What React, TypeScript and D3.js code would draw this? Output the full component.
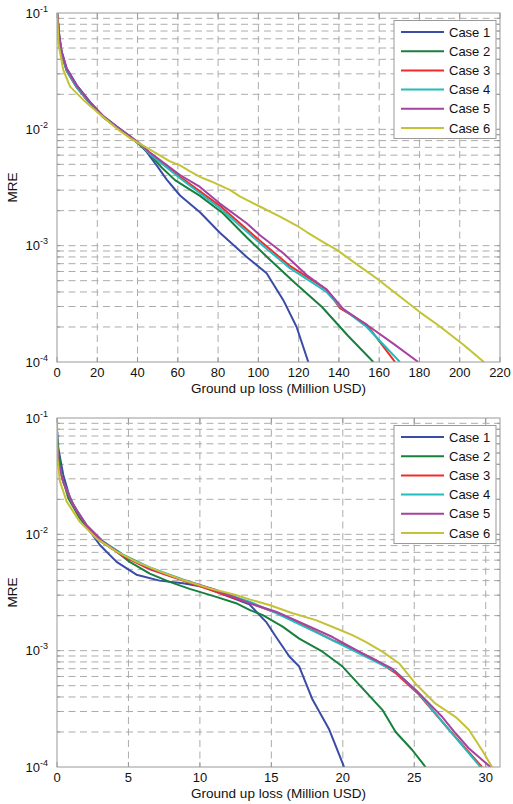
import React from 'react';
import * as d3 from 'd3';

const caseNames = ['Case 1', 'Case 2', 'Case 3', 'Case 4', 'Case 5', 'Case 6'];
const caseColors = ['#3a4ca6', '#17803d', '#f22a2a', '#22bcbe', '#a6429f', '#c4c336'];

const topXTicks = [0, 20, 40, 60, 80, 100, 120, 140, 160, 180, 200, 220];
const bottomXTicks = [0, 5, 10, 15, 20, 25, 30];
const yTickExps = [-1, -2, -3, -4];
const xLabel = 'Ground up loss (Million USD)';
const yLabel = 'MRE';

// ---------- Top panel data ----------
const topX1 = [0.1, 1.1, 2.3, 4.8, 9.8, 16.4, 23, 29.6, 36.3, 41, 44.5, 49.5, 54.5, 61.1, 71, 80.9, 94.2, 104.1, 112.4, 119, 124.8];
const topY1 = [0.1, 0.065, 0.047, 0.0335, 0.024, 0.0172, 0.013, 0.0106, 0.0087, 0.0074, 0.0064, 0.0049, 0.0037, 0.0027, 0.00194, 0.00129, 0.0008, 0.00058, 0.00034, 0.0002, 0.0001];
const topX2 = [0.1, 1.1, 2.3, 4.8, 9.8, 16.4, 23, 29.6, 36.3, 41, 46.2, 52, 58.6, 71, 82.4, 94.4, 104.3, 118.2, 131.6, 144.5, 157.1];
const topY2 = [0.1, 0.061, 0.044, 0.0318, 0.0229, 0.0166, 0.0127, 0.0104, 0.0086, 0.0074, 0.0061, 0.0047, 0.00366, 0.00268, 0.0019, 0.00117, 0.0008, 0.000477, 0.000297, 0.000168, 0.0001];
const topX3 = [0.1, 1.1, 2.3, 4.8, 9.8, 16.4, 23, 29.6, 36.3, 41, 46.2, 61.1, 80.9, 100.8, 115.7, 133.9, 140.5, 153.8, 160.4, 167.9];
const topY3 = [0.1, 0.062, 0.045, 0.032, 0.023, 0.0167, 0.0127, 0.0104, 0.0086, 0.0075, 0.0062, 0.0039, 0.0022, 0.0011, 0.00067, 0.00042, 0.00029, 0.00021, 0.000148, 0.0001];
const topX4 = [0.1, 1.1, 2.3, 4.8, 9.8, 16.4, 23, 29.6, 36.3, 41, 46.2, 61.1, 80.9, 100.8, 115.7, 133.9, 140.5, 153.8, 170.3];
const topY4 = [0.1, 0.062, 0.045, 0.032, 0.023, 0.0167, 0.0127, 0.0104, 0.0086, 0.0075, 0.0061, 0.0038, 0.0021, 0.00105, 0.00064, 0.0004, 0.0003, 0.0002, 0.0001];
const topX5 = [0.1, 1.1, 2.3, 4.8, 9.8, 16.4, 23, 29.6, 36.3, 41, 46.2, 61.1, 71, 80.9, 94.2, 100.8, 112.4, 124, 133.9, 142.2, 155.4, 167, 179.4];
const topY5 = [0.1, 0.064, 0.046, 0.033, 0.0237, 0.017, 0.0129, 0.0105, 0.0087, 0.0076, 0.0063, 0.00405, 0.0032, 0.0023, 0.00156, 0.00123, 0.00086, 0.00056, 0.00042, 0.000285, 0.0002, 0.000144, 0.0001];
const topX6 = [0.1, 0.7, 3.1, 6.5, 13.1, 19.7, 29.6, 36.3, 46.2, 56.1, 61.1, 66.1, 71, 76, 81, 86, 91, 101, 111, 119, 124, 132, 139, 147, 159, 169, 180, 190, 202, 212];
const topY6 = [0.1, 0.055, 0.0324, 0.0233, 0.0179, 0.0142, 0.0102, 0.0084, 0.0067, 0.0053, 0.0049, 0.00435, 0.0039, 0.0036, 0.0033, 0.003, 0.00264, 0.00216, 0.00177, 0.00149, 0.00131, 0.00108, 0.00092, 0.00073, 0.00052, 0.00038, 0.00027, 0.000203, 0.00014, 0.0001];

// ---------- Bottom panel data ----------
const botX1 = [0.02, 0.09, 0.44, 0.91, 1.83, 3.0, 4.17, 5.56, 7.18, 8.81, 10.21, 12.07, 13.46, 14.63, 15.33, 16.26, 16.95, 17.88, 19.05, 20.09];
const botY1 = [0.076, 0.0549, 0.0324, 0.0204, 0.0128, 0.0081, 0.0058, 0.0045, 0.004, 0.0038, 0.00354, 0.0029, 0.0025, 0.00177, 0.00131, 0.00089, 0.00073, 0.00038, 0.00021, 0.0001];
const botX2 = [0.01, 0.05, 0.33, 0.79, 1.6, 2.77, 4.17, 5.09, 6.49, 7.88, 9.28, 11.14, 12.53, 13.47, 14.4, 15.79, 16.95, 18.58, 19.98, 21.14, 22.77, 23.7, 24.86, 25.79];
const botY2 = [0.067, 0.058, 0.0324, 0.0204, 0.0137, 0.0092, 0.0071, 0.0058, 0.0046, 0.0039, 0.0034, 0.0029, 0.00256, 0.00224, 0.00202, 0.00161, 0.00127, 0.00098, 0.00073, 0.00051, 0.00031, 0.0002, 0.00014, 0.0001];
const botX3 = [0.01, 0.09, 0.44, 1.14, 2.07, 3.23, 4.63, 6.49, 8.81, 11.14, 13.47, 15.79, 17.42, 19.28, 20.44, 22.3, 23.7, 25.33, 27.42, 29.74];
const botY3 = [0.056, 0.041, 0.0278, 0.0176, 0.0118, 0.0085, 0.0065, 0.005, 0.004, 0.0032, 0.00256, 0.00202, 0.00161, 0.00123, 0.00108, 0.00083, 0.00064, 0.00042, 0.00021, 0.0001];
const botX4 = [0.01, 0.09, 0.44, 1.14, 2.07, 3.23, 4.63, 6.49, 8.81, 11.14, 13.47, 15.33, 19.05, 23.7, 25.33, 27.42, 29.63];
const botY4 = [0.057, 0.042, 0.0282, 0.0178, 0.012, 0.0087, 0.0067, 0.0052, 0.0041, 0.0033, 0.00264, 0.0021, 0.00127, 0.00066, 0.00043, 0.00021, 0.0001];
const botX5 = [0.01, 0.09, 0.44, 1.14, 2.07, 3.23, 4.63, 6.49, 8.81, 11.14, 13.47, 15.33, 16.95, 19.28, 21.14, 23.46, 25.1, 26.95, 27.89, 28.81, 30.33];
const botY5 = [0.057, 0.0421, 0.0284, 0.0179, 0.012, 0.0086, 0.0066, 0.0051, 0.00405, 0.00332, 0.00256, 0.00216, 0.00177, 0.00131, 0.00098, 0.0007, 0.00046, 0.00027, 0.000195, 0.000145, 0.0001];
const botX6 = [0, 0.03, 0.21, 0.68, 1.6, 2.77, 4.17, 5.56, 7.18, 8.81, 10.67, 12.53, 13.47, 14.86, 16.49, 18.12, 19.51, 20.67, 21.6, 22.77, 23.93, 25.09, 26.49, 27.88, 28.81, 29.74, 30.44];
const botY6 = [0.1, 0.0451, 0.0284, 0.0191, 0.0128, 0.0092, 0.0071, 0.0058, 0.0048, 0.00405, 0.00343, 0.00301, 0.00276, 0.00247, 0.0021, 0.00183, 0.00156, 0.00136, 0.00119, 0.00098, 0.00078, 0.00052, 0.00035, 0.00027, 0.00021, 0.00014, 0.0001];

const topSeries = [[topX1, topY1], [topX2, topY2], [topX3, topY3], [topX4, topY4], [topX5, topY5], [topX6, topY6]];
const botSeries = [[botX1, botY1], [botX2, botY2], [botX3, botY3], [botX4, botY4], [botX5, botY5], [botX6, botY6]];

const FONT = '"Liberation Sans", Arial, sans-serif';
const LEFT = 57;
const RIGHT = 500;
const GRID = '#acacac';
const AXIS = '#999999';

function Panel({ id, top, bottom, xMax, xTicks, series }: any) {
  const x = d3.scaleLinear().domain([0, xMax]).range([LEFT, RIGHT]);
  const y = d3.scaleLog().domain([1e-4, 1e-1]).range([bottom, top]);
  const line = d3.line<[number, number]>().x((d) => x(d[0])).y((d) => y(d[1]));
  const minorVals: number[] = [];
  for (let e = -4; e < -1; e++) {
    for (let m = 1; m <= 9; m++) {
      const v = m * Math.pow(10, e);
      if (v > 1e-4 && v < 1e-1) minorVals.push(v);
    }
  }
  const legX = 394, legY = top + 7.5, legW = 102, legH = 118;
  return (
    <g>
      <defs>
        <clipPath id={id}>
          <rect x={LEFT} y={top} width={RIGHT - LEFT} height={bottom - top} />
        </clipPath>
      </defs>
      {xTicks.filter((t: number) => t > 0 && t < xMax).map((t: number) => (
        <line key={'gx' + t} x1={x(t)} x2={x(t)} y1={top} y2={bottom} stroke={GRID} strokeDasharray="7,4.5" />
      ))}
      {minorVals.map((v) => (
        <line key={'gy' + v} x1={LEFT} x2={RIGHT} y1={y(v)} y2={y(v)} stroke={GRID} strokeDasharray="7,4.5" />
      ))}
      {xTicks.map((t: number) => (
        <g key={'xt' + t}>
          <line x1={x(t)} x2={x(t)} y1={bottom} y2={bottom - 5} stroke={AXIS} />
          <line x1={x(t)} x2={x(t)} y1={top} y2={top + 5} stroke={AXIS} />
        </g>
      ))}
      {minorVals.map((v) => (
        <g key={'yt' + v}>
          <line x1={LEFT} x2={LEFT + 3} y1={y(v)} y2={y(v)} stroke={AXIS} />
          <line x1={RIGHT} x2={RIGHT - 3} y1={y(v)} y2={y(v)} stroke={AXIS} />
        </g>
      ))}
      <g clipPath={`url(#${id})`}>
        {series.map((s: any, i: number) => {
          const pts: [number, number][] = s[0].map((xv: number, j: number) => [xv, s[1][j]]);
          return (
            <path key={'c' + i} d={line(pts) || ''} fill="none" stroke={caseColors[i]} strokeWidth={2} strokeLinejoin="round" />
          );
        })}
      </g>
      <rect x={LEFT} y={top} width={RIGHT - LEFT} height={bottom - top} fill="none" stroke={AXIS} strokeWidth={1} />
      {xTicks.map((t: number) => (
        <text key={'xl' + t} x={x(t)} y={bottom + 15} textAnchor="middle" fontSize={13} fontFamily={FONT} fill="#111">
          {t}
        </text>
      ))}
      {yTickExps.map((e) => (
        <text key={'yl' + e} x={48} y={y(Math.pow(10, e)) + 4.5} textAnchor="end" fontSize={13} fontFamily={FONT} fill="#111">
          10
          <tspan fontSize={9} dy={-6}>{e}</tspan>
        </text>
      ))}
      <text x={(LEFT + RIGHT) / 2} y={bottom + 31} textAnchor="middle" fontSize={13.5} fontFamily={FONT} fill="#111">
        {xLabel}
      </text>
      <text transform={`translate(17,${(top + bottom) / 2}) rotate(-90)`} textAnchor="middle" fontSize={13.5} fontFamily={FONT} fill="#111">
        {yLabel}
      </text>
      <rect x={legX} y={legY} width={legW} height={legH} fill="#fff" stroke={AXIS} />
      {caseNames.map((name, i) => {
        const cy = legY + 11.5 + i * 19.2;
        return (
          <g key={'lg' + i}>
            <line x1={legX + 7} x2={legX + 50} y1={cy} y2={cy} stroke={caseColors[i]} strokeWidth={2} />
            <text x={legX + 55} y={cy + 4.5} fontSize={13} fontFamily={FONT} fill="#111">
              {name}
            </text>
          </g>
        );
      })}
    </g>
  );
}

export default function App() {
  return (
    <svg width={513} height={804} style={{ position: 'absolute', left: 0, top: 0, background: '#fff' }}>
      <rect x={0} y={0} width={513} height={804} fill="#fff" />
      <Panel id="clipTop" top={13} bottom={362} xMax={220} xTicks={topXTicks} series={topSeries} />
      <Panel id="clipBot" top={418} bottom={767} xMax={31} xTicks={bottomXTicks} series={botSeries} />
    </svg>
  );
}
